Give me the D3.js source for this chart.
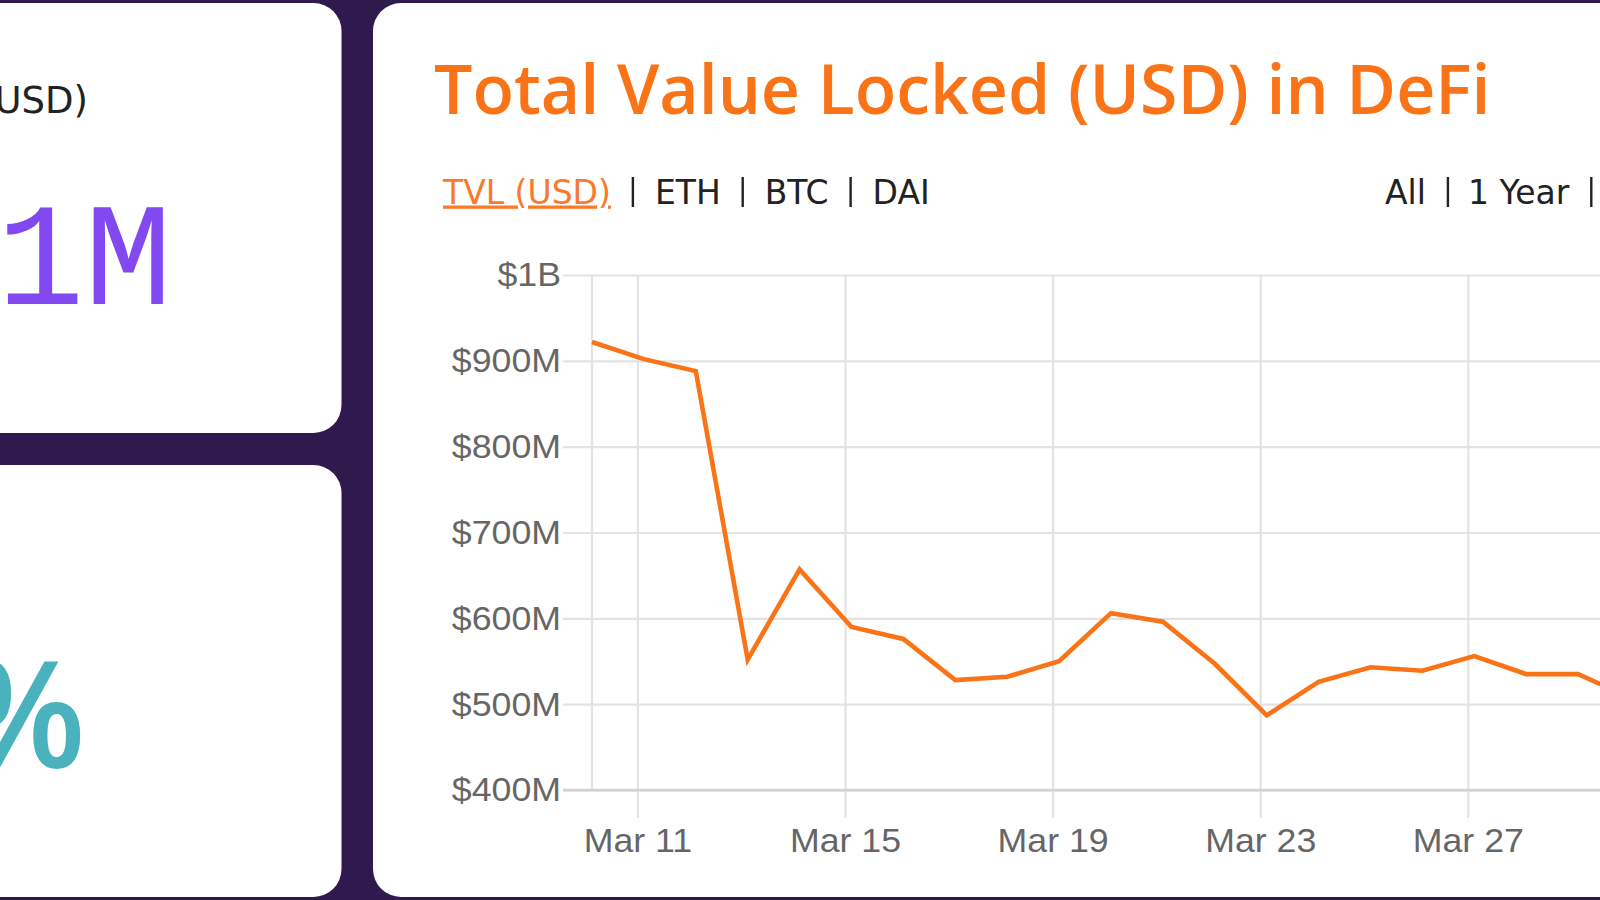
<!DOCTYPE html>
<html><head><meta charset="utf-8">
<script src="https://cdn.jsdelivr.net/npm/d3@7/dist/d3.min.js"></script>
<style>
html,body{margin:0;padding:0;background:#2e1a4d;overflow:hidden}
svg{display:block}
</style></head><body>
<svg id="c" width="1600" height="900"></svg>
<script>
// ---- data ----
const dates = ["2020-03-10","2020-03-11","2020-03-12","2020-03-13","2020-03-14","2020-03-15","2020-03-16",
  "2020-03-17","2020-03-18","2020-03-19","2020-03-20","2020-03-21","2020-03-22","2020-03-23",
  "2020-03-24","2020-03-25","2020-03-26","2020-03-27","2020-03-28","2020-03-29","2020-03-30"];
const tvlValues = [922, 902, 888, 552, 657, 590, 576, 528, 532, 550, 606, 596, 547, 487, 526, 543, 539, 556, 535, 535, 508]; // $M
const yTicks = [400, 500, 600, 700, 800, 900, 1000];
const yTickLabels = ["$400M","$500M","$600M","$700M","$800M","$900M","$1B"];
const xTickDates = ["2020-03-11","2020-03-15","2020-03-19","2020-03-23","2020-03-27"];
const xTickLabels = ["Mar 11","Mar 15","Mar 19","Mar 23","Mar 27"];
const seriesTabs = ["TVL (USD)","ETH","BTC","DAI"];
const rangeTabs = ["All","1 Year",""];
const titleText = "Total Value Locked (USD) in DeFi";

// ---- styling / layout ----
const ORANGE = "#fa7316";
const svg = d3.select("#c");
const parseDay = s => { const [y,m,d] = s.split("-").map(Number); return new Date(y, m-1, d, 3, 0); };
const parseMid = s => { const [y,m,d] = s.split("-").map(Number); return new Date(y, m-1, d); };

// cards
svg.append("rect").attr("x",-60).attr("y",3).attr("width",401.5).attr("height",430).attr("rx",28).attr("fill","#fff");
svg.append("rect").attr("x",-60).attr("y",465).attr("width",401.5).attr("height",432).attr("rx",28).attr("fill","#fff");
svg.append("rect").attr("x",373).attr("y",3).attr("width",1400).attr("height",894).attr("rx",28).attr("fill","#fff");

// left card texts
svg.append("text").attr("x",88).attr("y",113).attr("text-anchor","end")
  .attr("font-family","DejaVu Sans").attr("font-size",37).attr("fill","#222").text("USD)");
svg.append("text").attr("x",172).attr("y",304).attr("text-anchor","end")
  .attr("font-family","Liberation Mono").attr("font-size",146).attr("fill","#8249f0").text("1M");
svg.append("text").attr("x",86).attr("y",768).attr("text-anchor","end")
  .attr("font-family","Open Sans").attr("font-weight",600).attr("font-size",148).attr("fill","#4ab2bd").text("%");

// title
const title = svg.append("text").attr("x",434).attr("y",114)
  .attr("font-family","Open Sans").attr("font-weight",600).attr("font-size",68)
  .attr("fill",ORANGE).text(titleText);
{
  const w = title.node().getComputedTextLength(), target = 1059;
  if (Math.abs(w-target)/target > 0.01) title.attr("textLength",target).attr("lengthAdjust","spacingAndGlyphs");
}

// tabs
function tabRow(items, x0, activeIdx, gapBefore, gapAfter){
  let x = x0;
  items.forEach((t,i)=>{
    if (t !== "") {
      const el = svg.append("text").attr("x",x).attr("y",203.5)
        .attr("font-family","DejaVu Sans").attr("font-size",33)
        .attr("fill", i===activeIdx ? "#f97a2c" : "#222")
        .style("text-decoration", i===activeIdx ? "underline" : null)
        .text(t);
      x += el.node().getComputedTextLength();
    }
    if (i < items.length-1) {
      x += gapBefore;
      svg.append("rect").attr("x",x-1.2).attr("y",177).attr("width",2.4).attr("height",30).attr("fill","#222");
      x += gapAfter;
    }
  });
}
tabRow(seriesTabs, 443, 0, 22, 22);
tabRow(rangeTabs, 1385, -1, 22, 20);

// ---- chart ----
const x0 = 592, pxPerDay = 51.9;
const data = dates.map((d,i)=>({date: parseDay(d), value: tvlValues[i]}));
const x = d3.scaleTime()
  .domain([data[0].date, data[data.length-1].date])
  .range([x0, x0 + pxPerDay*(data.length-1)]);
const y = d3.scaleLinear().domain([400,1000]).range([790,275]);

const GRID = "#e3e3e3";
const g = svg.append("g");
const stretch = sel => sel.each(function(){
  const w = this.getComputedTextLength();
  d3.select(this).attr("textLength", w*1.05).attr("lengthAdjust","spacingAndGlyphs");
});

// y axis with gridlines
const yAxis = g.append("g").attr("transform",`translate(${x0},0)`)
  .call(d3.axisLeft(y).tickValues(yTicks).tickFormat((d,i)=>yTickLabels[i]).tickSize(0).tickPadding(31));
yAxis.select(".domain").remove();
yAxis.selectAll(".tick line").attr("x1",-29).attr("x2",1100)
  .attr("stroke",(d)=> d===400 ? "#cfcfcf" : GRID).attr("stroke-width",2.2);
yAxis.selectAll(".tick text").attr("font-family","Liberation Sans, Arial").attr("font-size",34).attr("fill","#666").call(stretch);

// x axis with gridlines
const xAxis = g.append("g").attr("transform","translate(0,790)")
  .call(d3.axisBottom(x).tickValues(xTickDates.map(parseMid)).tickFormat((d,i)=>xTickLabels[i]).tickSize(0).tickPadding(38));
xAxis.select(".domain").remove();
xAxis.selectAll(".tick line").attr("y1",y(1000)-790).attr("y2",28).attr("stroke",GRID).attr("stroke-width",2.2);
xAxis.selectAll(".tick text").attr("font-family","Liberation Sans, Arial").attr("font-size",34).attr("fill","#666").call(stretch);

// left axis line
g.append("line").attr("x1",x0).attr("x2",x0).attr("y1",y(1000)).attr("y2",y(400)).attr("stroke",GRID).attr("stroke-width",2.2);
// bottom axis line on top
g.append("line").attr("x1",x0-29).attr("x2",1700).attr("y1",y(400)).attr("y2",y(400)).attr("stroke","#d2d2d2").attr("stroke-width",2.4);

// line
g.append("path").datum(data)
  .attr("fill","none").attr("stroke",ORANGE).attr("stroke-width",4.6).attr("stroke-linejoin","miter")
  .attr("d", d3.line().x(d=>x(d.date)).y(d=>y(d.value)));
</script>
</body></html>
